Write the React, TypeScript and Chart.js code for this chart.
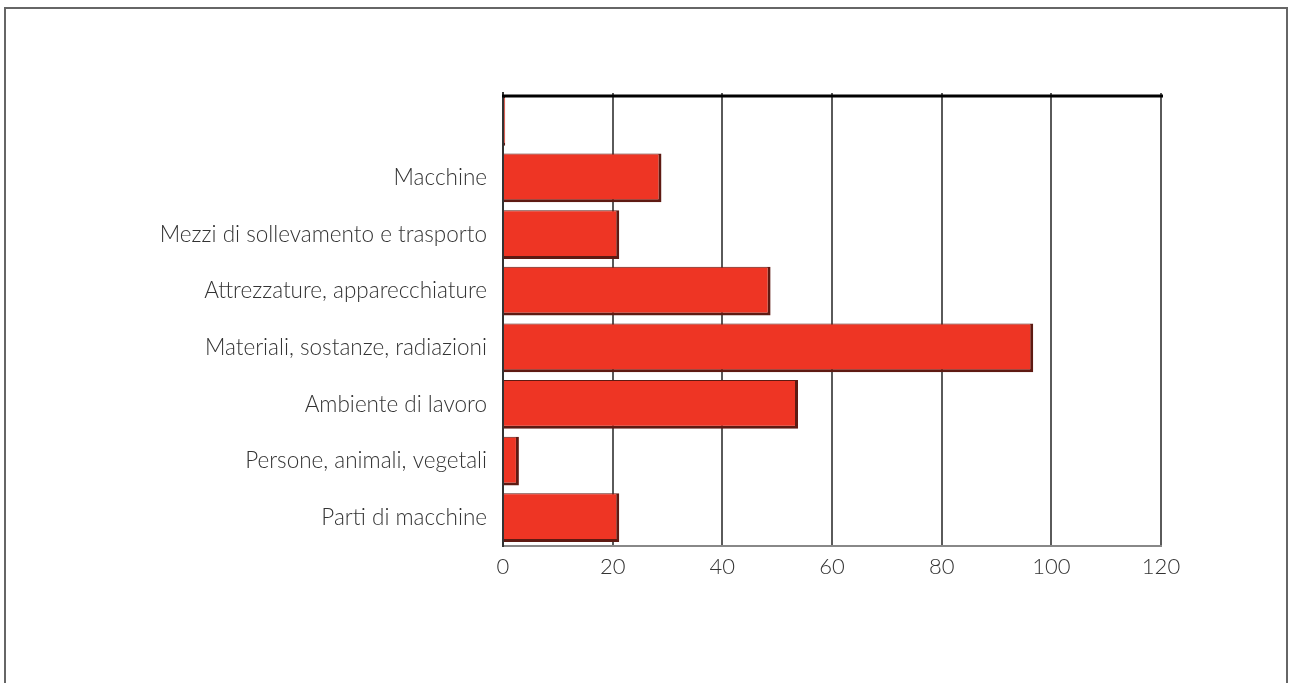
import React, { useEffect, useRef } from "react";
import { Chart, registerables } from "chart.js";

Chart.register(...registerables);

// Categories from top to bottom (the first row is an unnamed, near-empty entry)
const categories = [
  "",
  "Macchine",
  "Mezzi di sollevamento e trasporto",
  "Attrezzature, apparecchiature",
  "Materiali, sostanze, radiazioni",
  "Ambiente di lavoro",
  "Persone, animali, vegetali",
  "Parti di macchine",
];

const values = [0.4, 28.9, 21.2, 48.8, 96.7, 53.8, 2.9, 21.2];

const xMin = 0;
const xMax = 120;
const xStep = 20;

const FONT = "Lato, 'Open Sans', sans-serif";

// Heavy black rule along the top edge of the plot area
const topRule = {
  id: "topRule",
  afterDraw(chart: any) {
    const { ctx, chartArea } = chart;
    const y = chartArea.top + 3;
    ctx.save();
    ctx.strokeStyle = "#000";
    ctx.lineWidth = 3;
    ctx.beginPath();
    ctx.moveTo(chartArea.left - 1, y);
    ctx.lineTo(chartArea.right + 2, y);
    ctx.stroke();
    ctx.restore();
  },
};

export default function App() {
  const canvasRef = useRef<HTMLCanvasElement | null>(null);

  useEffect(() => {
    if (!canvasRef.current) return;
    const chart = new Chart(canvasRef.current, {
      type: "bar",
      data: {
        labels: categories,
        datasets: [
          {
            data: values,
            backgroundColor: "#ee3524",
            borderColor: "#5e1a12",
            borderWidth: { top: 1, right: 3, bottom: 3, left: 0 },
            borderSkipped: false,
            categoryPercentage: 1,
            barPercentage: 0.86,
          },
        ],
      },
      options: {
        indexAxis: "y",
        animation: false,
        responsive: false,
        maintainAspectRatio: false,
        layout: { padding: { top: 93, right: 129, bottom: 93, left: 0 } },
        plugins: {
          legend: { display: false },
          tooltip: { enabled: false },
        },
        scales: {
          x: {
            position: "bottom",
            min: xMin,
            max: xMax,
            ticks: {
              stepSize: xStep,
              color: "#333",
              padding: 8,
              font: { family: FONT, size: 22, weight: 300 },
            },
            grid: {
              color: "#5a5a5a",
              lineWidth: 2,
              drawTicks: false,
            },
            border: { display: true, color: "#888", width: 2 },
            afterFit: (s: any) => {
              s.height = 44;
            },
          },
          y: {
            ticks: {
              color: "#333",
              padding: 16,
              font: { family: FONT, size: 22.5, weight: 300 },
            },
            grid: { display: false, drawTicks: false },
            border: { display: true, color: "#333", width: 2 },
            afterFit: (s: any) => {
              s.width = 503;
            },
          },
        },
      },
      plugins: [topRule],
    });
    return () => chart.destroy();
  }, []);

  return (
    <div
      style={{
        position: "absolute",
        left: 0,
        top: 0,
        width: 1290,
        height: 683,
        overflow: "hidden",
        background: "#fff",
      }}
    >
      <div
        style={{
          position: "absolute",
          left: 4,
          top: 7,
          width: 1284,
          height: 720,
          border: "2px solid #666",
          boxSizing: "border-box",
        }}
      />
      <canvas
        ref={canvasRef}
        width={1290}
        height={683}
        style={{ position: "absolute", left: 0, top: 0 }}
      />
    </div>
  );
}
